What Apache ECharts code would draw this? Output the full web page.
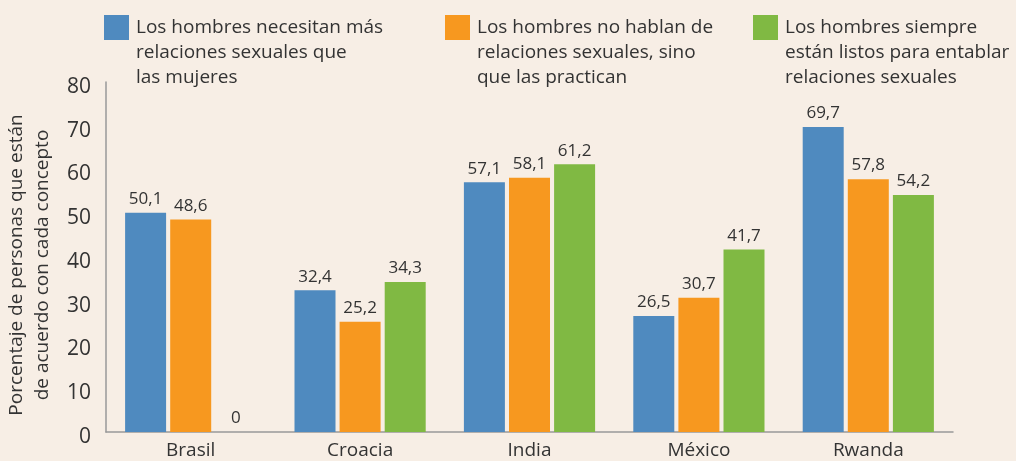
<!DOCTYPE html>
<html><head><meta charset="utf-8">
<script src="https://cdn.jsdelivr.net/npm/echarts@6/dist/echarts.min.js"></script>
<style>html,body{margin:0;padding:0;background:#f7eee5}#c{width:1016px;height:461px}</style>
</head><body><div id="c"></div>
<script>
const categories = ['Brasil', 'Croacia', 'India', 'México', 'Rwanda'];
const seriesNames = [
  'Los hombres necesitan más\nrelaciones sexuales que\nlas mujeres',
  'Los hombres no hablan de\nrelaciones sexuales, sino\nque las practican',
  'Los hombres siempre\nestán listos para entablar\nrelaciones sexuales'
];
const necesitanMas = [50.1, 32.4, 57.1, 26.5, 69.7];
const noHablan = [48.6, 25.2, 58.1, 30.7, 57.8];
const siempreListos = [0, 34.3, 61.2, 41.7, 54.2];
const yTicks = [0, 10, 20, 30, 40, 50, 60, 70, 80];
const yAxisTitle = 'Porcentaje de personas que están\nde acuerdo con cada concepto';

const colors = ['#4f8abf', '#f7981f', '#80b943'];
const FONT = 'Open Sans';
const chart = echarts.init(document.getElementById('c'));
const fmt = p => String(p.value).replace('.', ',');
const legendLeft = [104, 445, 753];
const seriesData = [necesitanMas, noHablan, siempreListos];
// square at top of a taller (invisible-extended) icon box so it lines up with the first text line
const legendIcon = 'path://M0,0L25,0L25,25L0,25Z M0,75L0.01,75L0,75Z';
chart.setOption({
  backgroundColor: '#f7eee5',
  textStyle: { fontFamily: FONT },
  legend: seriesNames.map((n, i) => ({
    data: [n], left: legendLeft[i], top: 12, padding: 0,
    itemWidth: 25, itemHeight: 75, itemGap: 8, icon: legendIcon,
    textStyle: { fontFamily: FONT, fontSize: 19, color: '#333', lineHeight: 25, padding: [6, 0, 0, 2] }
  })),
  grid: { left: 106, right: 63, top: 82, bottom: 29, containLabel: false, outerBoundsMode: 'none' },
  xAxis: {
    type: 'category', data: categories,
    axisLine: { lineStyle: { color: '#999', width: 1.5 } },
    axisTick: { show: false },
    axisLabel: { fontFamily: FONT, fontSize: 19, color: '#333', margin: 9 }
  },
  yAxis: {
    type: 'value', min: yTicks[0], max: yTicks[yTicks.length - 1], interval: 10,
    name: yAxisTitle, nameLocation: 'middle', nameGap: 32, nameRotate: 90,
    nameTextStyle: { fontFamily: FONT, fontSize: 19, color: '#333', lineHeight: 26, padding: [0, 16, 0, 0] },
    axisLine: { show: true, lineStyle: { color: '#999', width: 1.5 } },
    axisTick: { show: false }, splitLine: { show: false },
    axisLabel: { fontFamily: FONT, fontSize: 21, color: '#333', margin: 15, verticalAlign: 'top', lineHeight: 10 }
  },
  series: seriesData.map((d, i) => ({
    name: seriesNames[i], type: 'bar', data: d, barWidth: 41, barGap: '10%',
    itemStyle: { color: colors[i] },
    label: { show: true, position: 'top', formatter: fmt, fontFamily: FONT, fontSize: 17, color: '#333', distance: 5 }
  }))
});
</script></body></html>
